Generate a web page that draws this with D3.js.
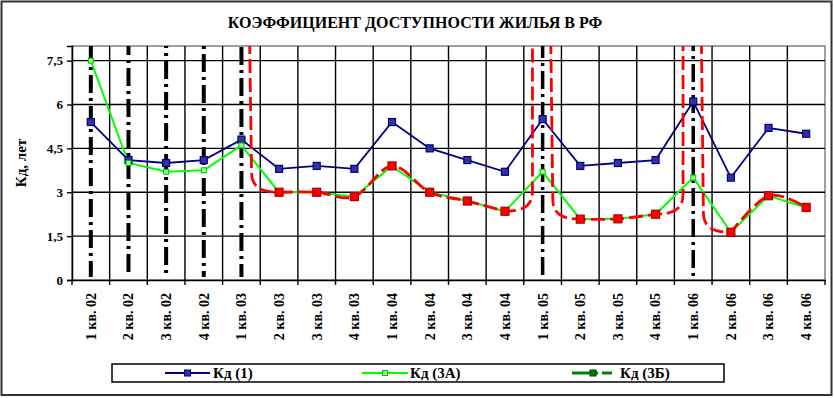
<!DOCTYPE html>
<html><head><meta charset="utf-8">
<script src="https://cdn.jsdelivr.net/npm/d3@7"></script>
<style>
body{margin:0;background:#fff}
svg{display:block}
text{font-family:"Liberation Serif","Times New Roman","DejaVu Serif",serif;font-weight:bold;fill:#000}
</style>
</head><body>
<svg id="c" width="834" height="398"></svg>
<script>
const title = "КОЭФФИЦИЕНТ ДОСТУПНОСТИ ЖИЛЬЯ В РФ";
const yLabel = "Кд, лет";
const categories = ["1 кв. 02","2 кв. 02","3 кв. 02","4 кв. 02","1 кв. 03","2 кв. 03","3 кв. 03","4 кв. 03","1 кв. 04","2 кв. 04","3 кв. 04","4 кв. 04","1 кв. 05","2 кв. 05","3 кв. 05","4 кв. 05","1 кв. 06","2 кв. 06","3 кв. 06","4 кв. 06"];
const kd1  = [5.4,4.1,4.0,4.1,4.8,3.8,3.9,3.8,5.4,4.5,4.1,3.7,5.5,3.9,4.0,4.1,6.1,3.5,5.2,5.0];
const kd3A = [7.5,4.0,3.7,3.75,4.6,3.0,3.0,2.85,3.9,3.0,2.7,2.35,3.7,2.08,2.09,2.25,3.5,1.63,2.88,2.48];
const kd3B = [null,null,null,null,null,3.0,3.0,2.85,3.9,3.0,2.7,2.35,null,2.08,2.09,2.25,null,1.63,2.88,2.48];
const spikeCats = ["1 кв. 03","1 кв. 05","1 кв. 06"];
const markerCats = ["1 кв. 02","2 кв. 02","3 кв. 02","4 кв. 02","1 кв. 03","1 кв. 05","1 кв. 06"];
const yTicks = [0,1.5,3,4.5,6,7.5];
const yTickLabels = ["0","1,5","3","4,5","6","7,5"];
const seriesNames = ["Кд (1)","Кд (3А)","Кд (3Б)"];

const FONT = '"Liberation Serif","Times New Roman","DejaVu Serif",serif';
const svg = d3.select("#c");
const L = 72, R = 825, T = 46, B = 280;

// outer frame
svg.append("rect").attr("x",1.5).attr("y",1.5).attr("width",830).attr("height",393.5)
  .attr("fill","#fff").attr("stroke","#333").attr("stroke-width",2);

const x = d3.scaleBand().domain(categories).range([L,R]).padding(0);
const y = d3.scaleLinear().domain([0,8]).range([B,T]);
const xc = c => x(c) + x.bandwidth()/2;

// title
svg.append("text").attr("x",415).attr("y",28).attr("text-anchor","middle")
  .style("font-size","16px").text(title);

// plot area border
svg.append("rect").attr("x",L).attr("y",T).attr("width",R-L).attr("height",B-T)
  .attr("fill","#fff").attr("stroke","#808080").attr("stroke-width",1.5);

// horizontal gridlines
svg.append("g").selectAll("line").data(yTicks.filter(v=>v>0)).join("line")
  .attr("x1",L).attr("x2",R).attr("y1",d=>y(d)).attr("y2",d=>y(d))
  .attr("stroke","#000").attr("stroke-width",1.4);
// vertical gridlines at category boundaries
svg.append("g").selectAll("line").data(categories.slice(1)).join("line")
  .attr("x1",d=>x(d)).attr("x2",d=>x(d)).attr("y1",T).attr("y2",B)
  .attr("stroke","#000").attr("stroke-width",1.4);

// axes
const yAxis = d3.axisLeft(y).tickValues(yTicks).tickFormat((d,i)=>yTickLabels[i]).tickSize(5).tickPadding(4);
const gy = svg.append("g").attr("transform",`translate(${L},0)`).call(yAxis);
gy.attr("font-family",FONT);
gy.select(".domain").attr("stroke","#000").attr("stroke-width",1.5);
gy.selectAll(".tick line").attr("stroke","#000").attr("stroke-width",1.4);
gy.selectAll(".tick text").style("font-size","13px").style("font-family",FONT).style("font-weight","bold");

const xAxis = d3.axisBottom(x).tickSize(0).tickFormat("");
const gx = svg.append("g").attr("transform",`translate(0,${B})`).call(xAxis);
gx.select(".domain").attr("stroke","#000").attr("stroke-width",1.5);
gx.selectAll(".tick").remove();
svg.append("g").selectAll("line").data(categories.concat(["_end"])).join("line")
  .attr("x1",(d,i)=>L+i*x.bandwidth()).attr("x2",(d,i)=>L+i*x.bandwidth())
  .attr("y1",B).attr("y2",B+5).attr("stroke","#000").attr("stroke-width",1.4);
svg.append("g").selectAll("text").data(categories).join("text")
  .attr("transform",d=>`translate(${xc(d)},${B+13}) rotate(-90)`)
  .attr("text-anchor","end").attr("dy","0.35em")
  .style("font-size","14px").text(d=>d);

// y label
svg.append("text").attr("transform",`translate(21,${(T+B)/2}) rotate(-90)`)
  .attr("text-anchor","middle").attr("dy","0.35em").style("font-size","15px").text(yLabel);

// clip
svg.append("clipPath").attr("id","clip").append("rect")
  .attr("x",L).attr("y",T).attr("width",R-L).attr("height",B-T);
const plot = svg.append("g").attr("clip-path","url(#clip)");

// black dash-dot marker lines
plot.append("g").selectAll("line").data(markerCats).join("line")
  .attr("x1",d=>xc(d)).attr("x2",d=>xc(d)).attr("y1",(d,i)=>T-2-i*7).attr("y2",B-3)
  .attr("stroke","#000").attr("stroke-width",(d,i)=>i<5?4:3.5).attr("stroke-dasharray","18,5,3,5");

// series 1 (blue)
const lineStraight = d3.line().x((d,i)=>xc(categories[i])).y(d=>y(d));
plot.append("path").attr("d",lineStraight(kd1)).attr("fill","none")
  .attr("stroke","#000080").attr("stroke-width",1.8);
// series 3A (green)
plot.append("path").attr("d",lineStraight(kd3A)).attr("fill","none")
  .attr("stroke","#00ff00").attr("stroke-width",2);

// series 3B (red, smoothed, with off-scale spikes)
const pts = kd3B.map((v,i)=>({i,v}));
const runs = [];
let cur = null;
pts.forEach(p=>{
  if(p.v==null){ if(cur){runs.push(cur);cur=null;} }
  else { if(!cur) cur=[]; cur.push(p); }
});
if(cur) runs.push(cur);
const spikeIdx = spikeCats.map(c=>categories.indexOf(c));
const off = x.bandwidth()*0.27;
const smooth = d3.line().x(p=>xc(categories[p.i])).y(p=>y(p.v)).curve(d3.curveCatmullRom.alpha(0));
let dAll = "";
runs.forEach(run=>{
  const first = run[0], last = run[run.length-1];
  const x0 = xc(categories[first.i]), y0 = y(first.v);
  const xn = xc(categories[last.i]), yn = y(last.v);
  let d = "";
  const body = smooth(run);
  if(spikeIdx.includes(first.i-1)){
    const xv = xc(categories[first.i-1]) + off;
    d += `M${xv-2},${T-6}L${xv},${y0-20}C${xv},${y0-4} ${xv+0.4*(x0-xv)},${y0} ${x0},${y0}`;
    d += body.replace(/^M[-\d.e]+,[-\d.e]+/,"");
  } else d += body;
  if(spikeIdx.includes(last.i+1)){
    const xv = xc(categories[last.i+1]) - off;
    d += `C${xn+0.6*(xv-xn)},${yn} ${xv},${yn-4} ${xv},${yn-20}L${xv},${T-6}`;
  }
  dAll += d;
});
plot.append("path").attr("d",dAll).attr("fill","none")
  .attr("stroke","#ff0000").attr("stroke-width",2.8).attr("stroke-dasharray","14,5");

// markers
plot.append("g").selectAll("rect").data(kd1).join("rect")
  .attr("x",(d,i)=>xc(categories[i])-3.5).attr("y",d=>y(d)-3.5).attr("width",7).attr("height",7)
  .attr("fill","#3333a0").attr("stroke","#000080").attr("stroke-width",1.2);
plot.append("g").selectAll("rect").data(kd3A).join("rect")
  .attr("x",(d,i)=>xc(categories[i])-2.5).attr("y",d=>y(d)-2.5).attr("width",5).attr("height",5)
  .attr("fill","#99ff99").attr("stroke","#00c000").attr("stroke-width",1);
plot.append("g").selectAll("rect").data(pts.filter(p=>p.v!=null)).join("rect")
  .attr("x",p=>xc(categories[p.i])-4).attr("y",p=>y(p.v)-4).attr("width",8).attr("height",8)
  .attr("fill","#ff0000").attr("stroke","#b00000").attr("stroke-width",1.2);

// legend
const lg = svg.append("g");
lg.append("rect").attr("x",112).attr("y",364).attr("width",612).attr("height",18)
  .attr("fill","#fff").attr("stroke","#000").attr("stroke-width",1.5);
const ly = 373;
const legendX = [165, 362, 572];
lg.append("line").attr("x1",legendX[0]).attr("x2",legendX[0]+45).attr("y1",ly).attr("y2",ly)
  .attr("stroke","#000080").attr("stroke-width",1.8);
lg.append("rect").attr("x",legendX[0]+22.5-3).attr("y",ly-3).attr("width",6).attr("height",6)
  .attr("fill","#3333a0").attr("stroke","#000080");
lg.append("line").attr("x1",legendX[1]).attr("x2",legendX[1]+46).attr("y1",ly).attr("y2",ly)
  .attr("stroke","#00ff00").attr("stroke-width",2);
lg.append("rect").attr("x",legendX[1]+23-2.5).attr("y",ly-2.5).attr("width",5).attr("height",5)
  .attr("fill","#99ff99").attr("stroke","#00c000");
lg.append("line").attr("x1",legendX[2]).attr("x2",legendX[2]+43).attr("y1",ly).attr("y2",ly)
  .attr("stroke","#008000").attr("stroke-width",3).attr("stroke-dasharray","26,4,10");
lg.append("rect").attr("x",legendX[2]+21-3).attr("y",ly-3).attr("width",6).attr("height",6)
  .attr("fill","#008000").attr("stroke","#004000");
lg.selectAll("text.l").data(seriesNames).join("text").attr("class","l")
  .attr("x",(d,i)=>[213,410,620][i]).attr("y",ly).attr("dy","0.35em")
  .style("font-size","15px").text(d=>d);
</script>
</body></html>
